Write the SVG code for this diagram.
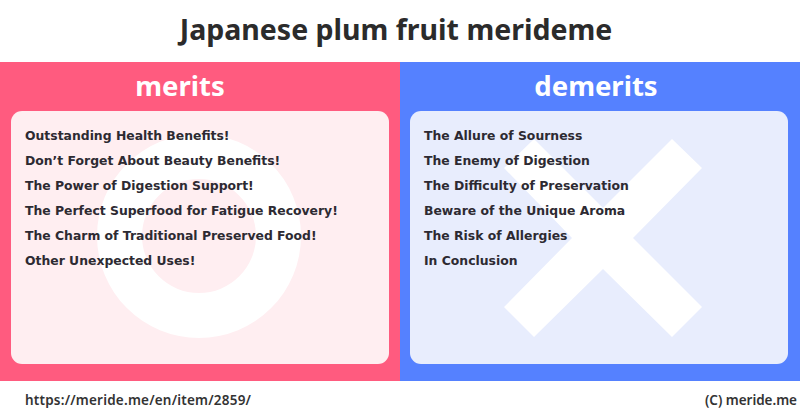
<svg xmlns="http://www.w3.org/2000/svg" width="800" height="418" viewBox="0 0 800 418">
<style>
.t{font-family:"Noto Sans","Open Sans","Liberation Sans",sans-serif;font-weight:700}
.title{font-size:28.5px;fill:#2b2b2b;text-anchor:middle}
.head{font-size:27.5px;fill:#fff;text-anchor:middle}
.i{font-family:"DejaVu Sans",Verdana,sans-serif;font-weight:700;font-size:12.4px;fill:#2d2a32}
.f{font-family:"Noto Sans",sans-serif;font-size:13.5px;fill:#333;font-weight:600}
</style>
<rect width="800" height="418" fill="#fff"/>
<g id="title"><text class="t title" x="396" y="40">Japanese plum fruit merideme</text></g>
<g id="merits">
<rect x="0" y="62" width="400" height="319" fill="#ff5b7f"/>
<text class="t head" x="180" y="96">merits</text>
<rect x="11" y="111" width="378" height="253" rx="11" fill="#ffeef1"/>
<path fill="#fff" fill-rule="evenodd" d="M97 236a102 102 0 1 0 204 0a102 102 0 1 0-204 0ZM142 236a57 57 0 1 1 114 0a57 57 0 1 1-114 0Z"/>
<text class="i" x="25" y="140">Outstanding Health Benefits!</text>
<text class="i" x="25" y="165">Don’t Forget About Beauty Benefits!</text>
<text class="i" x="25" y="190">The Power of Digestion Support!</text>
<text class="i" x="25" y="215">The Perfect Superfood for Fatigue Recovery!</text>
<text class="i" x="25" y="240">The Charm of Traditional Preserved Food!</text>
<text class="i" x="25" y="265">Other Unexpected Uses!</text>
</g>
<g id="demerits">
<rect x="400" y="62" width="400" height="319" fill="#5581ff"/>
<text class="t head" x="596" y="96">demerits</text>
<rect x="410" y="111" width="378" height="253" rx="11" fill="#e8edfd"/>
<polygon fill="#fff" points="534,139 603,208 672,139 702,168 633,238 702,307 672,337 603,269 534,337 504,307 572,238 504,168"/>
<text class="i" x="424" y="140">The Allure of Sourness</text>
<text class="i" x="424" y="165">The Enemy of Digestion</text>
<text class="i" x="424" y="190">The Difficulty of Preservation</text>
<text class="i" x="424" y="215">Beware of the Unique Aroma</text>
<text class="i" x="424" y="240">The Risk of Allergies</text>
<text class="i" x="424" y="265">In Conclusion</text>
</g>
<g id="footer">
<text class="f" x="25" y="405" textLength="226">https://meride.me/en/item/2859/</text>
<text class="f" x="705" y="405" textLength="92">(C) meride.me</text>
</g>
</svg>
